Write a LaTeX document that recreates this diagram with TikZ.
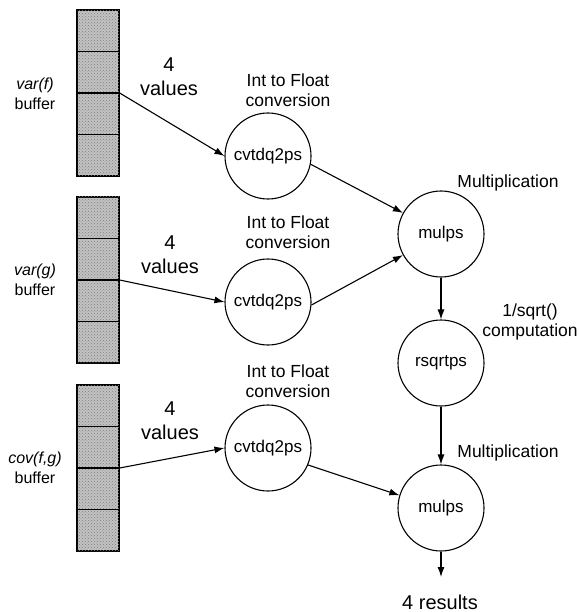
\documentclass[tikz,border=0pt]{standalone}
\usepackage{fontspec}
\setmainfont{Liberation Sans}
\usetikzlibrary{arrows.meta,patterns,calc}
\begin{document}
\begin{tikzpicture}[x=1pt,y=-1pt,
  op/.style={circle, draw, line width=1.1pt, minimum size=86pt, inner sep=0pt,
             font=\fontsize{17}{20}\selectfont},
  lbl/.style={align=center, font=\fontsize{17.5}{20}\selectfont},
  cnt/.style={align=center, font=\fontsize{20}{24}\selectfont},
  buflbl/.style={align=center, font=\fontsize{16}{20}\selectfont},
  flow/.style={-{Latex[length=10pt,width=7pt]}, line width=1.1pt},
  buf/.style={rectangle, draw, line width=1.3pt, minimum width=42pt, minimum height=166pt,
              inner sep=0pt, fill=black!24,
              postaction={pattern=crosshatch dots, pattern color=black!50}}
]
\useasboundingbox (0,0) rectangle (578,612);

% input buffers, four cells each
\node[buf] (bf) at (98,93)  {};
\node[buf] (bg) at (98,280) {};
\node[buf] (bc) at (98,468) {};
\foreach \b in {bf,bg,bc}{
  \foreach \t in {0.25,0.5,0.75}{
    \draw[line width=1.2pt] ($(\b.north west)!\t!(\b.south west)$) -- ($(\b.north east)!\t!(\b.south east)$);
  }
}

\node[buflbl] (lf) at (35,94)  {\itshape var(f)\\buffer};
\node[buflbl] (lg) at (35,280) {\itshape var(g)\\buffer};
\node[buflbl] (lc) at (35,468) {\itshape cov(f,g)\\buffer};

\node[cnt] (nf) at (169,77)  {4\\values};
\node[cnt] (ng) at (170,255) {4\\values};
\node[cnt] (nc) at (170,421) {4\\values};

% conversion stage
\node[op] (cf) at (268,156) {cvtdq2ps};
\node[op] (cg) at (268,302) {cvtdq2ps};
\node[op] (cc) at (268,448) {cvtdq2ps};
\node[lbl] (tf) at (288,90)  {Int to Float\\conversion};
\node[lbl] (tg) at (288,232) {Int to Float\\conversion};
\node[lbl] (tc) at (288,381) {Int to Float\\conversion};

% arithmetic stage
\node[op] (m1) at (441,234) {mulps};
\node[op] (rs) at (441,363) {rsqrtps};
\node[op] (m2) at (441,508) {mulps};
\node[lbl] (t1) at (508,183) {Multiplication};
\node[lbl] (t2) at (530,322) {1/sqrt()\\computation};
\node[lbl] (t3) at (508,453) {Multiplication};

\coordinate (out) at (441,577);
\node[cnt, anchor=base, inner sep=0pt] (res) at (440,609) {4 results};

% data flow
\draw[flow] (bf.east) -- (cf.west);
\draw[flow] (bg.east) -- (cg.west);
\draw[flow] (bc.east) -- (cc.west);
\draw[flow] (cf.-11) -- (m1.151);
\draw[flow] (cg.-4) -- (m1.-151);
\draw[flow] (m1) -- (rs);
\draw[flow] (rs) -- (m2);
\draw[flow] (cc.-23) -- (m2.163);
\draw[flow] (m2) -- (out);
\end{tikzpicture}
\end{document}
